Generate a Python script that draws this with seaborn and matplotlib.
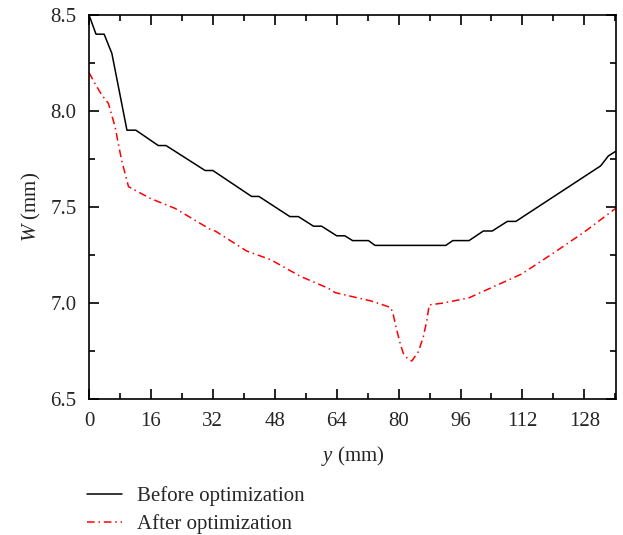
import matplotlib
matplotlib.use("Agg")
import matplotlib.pyplot as plt
from matplotlib.ticker import MultipleLocator
import pandas as pd
import seaborn as sns

# Before optimization (black solid)
y_before = [0, 1.8, 3.9, 5.9, 9.8, 12.1, 17.9, 19.9, 30.0, 32.0, 42.0, 43.9,
            51.9, 54.1, 58.0, 60.1, 64.0, 66.1, 68.1, 72.2, 73.9, 92.2, 94.0,
            98.2, 101.9, 104.2, 108.1, 110.3, 132.2, 134.2, 136.1]
w_before = [8.50, 8.40, 8.40, 8.30, 7.90, 7.90, 7.82, 7.82, 7.69, 7.69, 7.555, 7.555,
            7.45, 7.45, 7.40, 7.40, 7.35, 7.35, 7.325, 7.325, 7.30, 7.30, 7.325,
            7.325, 7.375, 7.375, 7.425, 7.425, 7.714, 7.766, 7.79]

# After optimization (red dash-dot)
y_after = [0, 1.6, 3.3, 5.0, 6.7, 8.4, 10.2, 15.8, 22.2, 31.3, 32.6, 40.7,
           47.0, 54.5, 61.8, 63.6, 73.0, 76.0, 78.0, 78.6, 79.5, 80.4, 81.2,
           82.1, 83.4, 85.1, 86.4, 87.3, 87.9, 91.6, 98.2, 106.2, 111.8, 120.0,
           128.0, 136.1]
w_after = [8.20, 8.14, 8.083, 8.04, 7.92, 7.745, 7.606, 7.545, 7.493, 7.384, 7.375, 7.271,
           7.225, 7.14, 7.077, 7.054, 7.01, 6.99, 6.976, 6.94, 6.86, 6.79, 6.738,
           6.715, 6.698, 6.746, 6.825, 6.91, 6.99, 7.0, 7.027, 7.10, 7.151, 7.26,
           7.37, 7.493]

sns.set_style("ticks")
plt.rcParams['font.family'] = ['Liberation Serif', 'DejaVu Serif']
plt.rcParams['mathtext.fontset'] = 'custom'
plt.rcParams['mathtext.it'] = 'Liberation Serif:italic'
plt.rcParams['mathtext.rm'] = 'Liberation Serif'

df_before = pd.DataFrame({'y': y_before, 'W': w_before})
df_after = pd.DataFrame({'y': y_after, 'W': w_after})

fig = plt.figure(figsize=(6.23, 5.35), dpi=100)
ax = fig.add_axes([0.1429, 0.2542, 0.8454, 0.7178])

sns.lineplot(data=df_before, x='y', y='W', ax=ax, color='black', lw=1.1,
             label='Before optimization', sort=False)
sns.lineplot(data=df_after, x='y', y='W', ax=ax, color='red', lw=1.1,
             linestyle=(0, (5, 2.5, 1, 2.5)), label='After optimization', sort=False)

ax.set_xlim(0, 136.1)
ax.set_ylim(6.5, 8.5)
ax.xaxis.set_major_locator(MultipleLocator(16))
ax.xaxis.set_minor_locator(MultipleLocator(8))
ax.yaxis.set_major_locator(MultipleLocator(0.5))
ax.yaxis.set_minor_locator(MultipleLocator(0.25))
ax.yaxis.set_major_formatter(plt.FormatStrFormatter('%.1f'))
ax.tick_params(which='both', direction='in', top=True, right=True, labelsize=15,
               width=1.2, color='black', pad=9)
ax.tick_params(which='major', length=7)
ax.tick_params(which='minor', length=4)
for s in ax.spines.values():
    s.set_linewidth(1.2)
    s.set_color('black')

ax.set_xlabel('$y$ (mm)', fontsize=15, labelpad=10)
ax.set_ylabel('$W$ (mm)', fontsize=15, labelpad=5)

ax.get_legend().remove()
handles, labels = ax.get_legend_handles_labels()
fig.legend(handles, labels, loc='upper left', bbox_to_anchor=(0.14, 0.091), frameon=False,
           fontsize=15, handlelength=1.65, handletextpad=0.75, labelspacing=0.4,
           borderaxespad=0, borderpad=0)

fig.savefig('out.png', dpi=100)
